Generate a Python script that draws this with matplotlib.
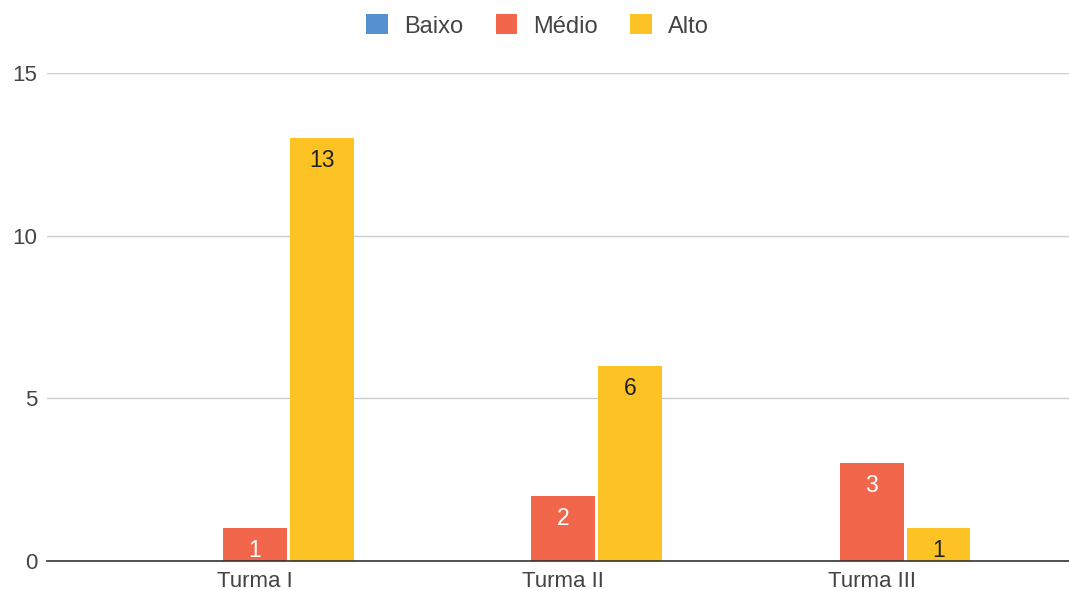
import numpy as np
import matplotlib.pyplot as plt
from matplotlib.patches import Patch

plt.rcParams['font.family'] = ['Liberation Sans', 'DejaVu Sans']

categories = ["Turma I", "Turma II", "Turma III"]
series = ["Baixo", "Médio", "Alto"]
baixo = [0, 0, 0]
medio = [1, 2, 3]
alto = [13, 6, 1]
colors = ["#5590d0", "#f2664c", "#fdc325"]
label_colors = ["white", "white", "#222222"]
yticks = [0, 5, 10, 15]

fig = plt.figure(figsize=(10.69, 5.91), dpi=100)
ax = fig.add_axes([47 / 1069, 30 / 591, 1 - 47 / 1069, (561 - 73) / 591])

x = np.arange(len(categories))
width = 0.207
offsets = [-0.217, 0.0, 0.217]

for vals, off, col, lc in zip([baixo, medio, alto], offsets, colors, label_colors):
    ax.bar(x + off, vals, width=width, color=col, zorder=3)
    for xi, v in zip(x, vals):
        if v > 0:
            ax.annotate(str(v), (xi + off, v), xytext=(0, -16), textcoords="offset points",
                        ha="center", va="center", fontsize=16.5, color=lc, zorder=4)

ax.set_xlim(-0.674, 2.64)
ax.set_ylim(0, 15)
ax.set_yticks(yticks)
ax.set_xticks(x)
ax.set_xticklabels(categories)
ax.tick_params(axis="both", length=0, labelsize=16, colors="#444444")
ax.tick_params(axis="x", pad=7)
ax.tick_params(axis="y", pad=7)
ax.grid(axis="y", color="#cccccc", linewidth=1, zorder=0)
for s in ["top", "right", "left"]:
    ax.spines[s].set_visible(False)
ax.spines["bottom"].set_color("#333333")
ax.spines["bottom"].set_linewidth(1.2)
ax.spines["bottom"].set_zorder(5)

handles = [Patch(facecolor=c, label=s) for c, s in zip(colors, series)]
fig.legend(handles=handles, loc="center", bbox_to_anchor=(0.503, 1 - 26 / 591), ncol=3,
           frameon=False, fontsize=17, handlelength=0.93, handleheight=0.93,
           handletextpad=0.68, columnspacing=1.36, labelcolor="#444444")

fig.savefig("out.png", dpi=100)
